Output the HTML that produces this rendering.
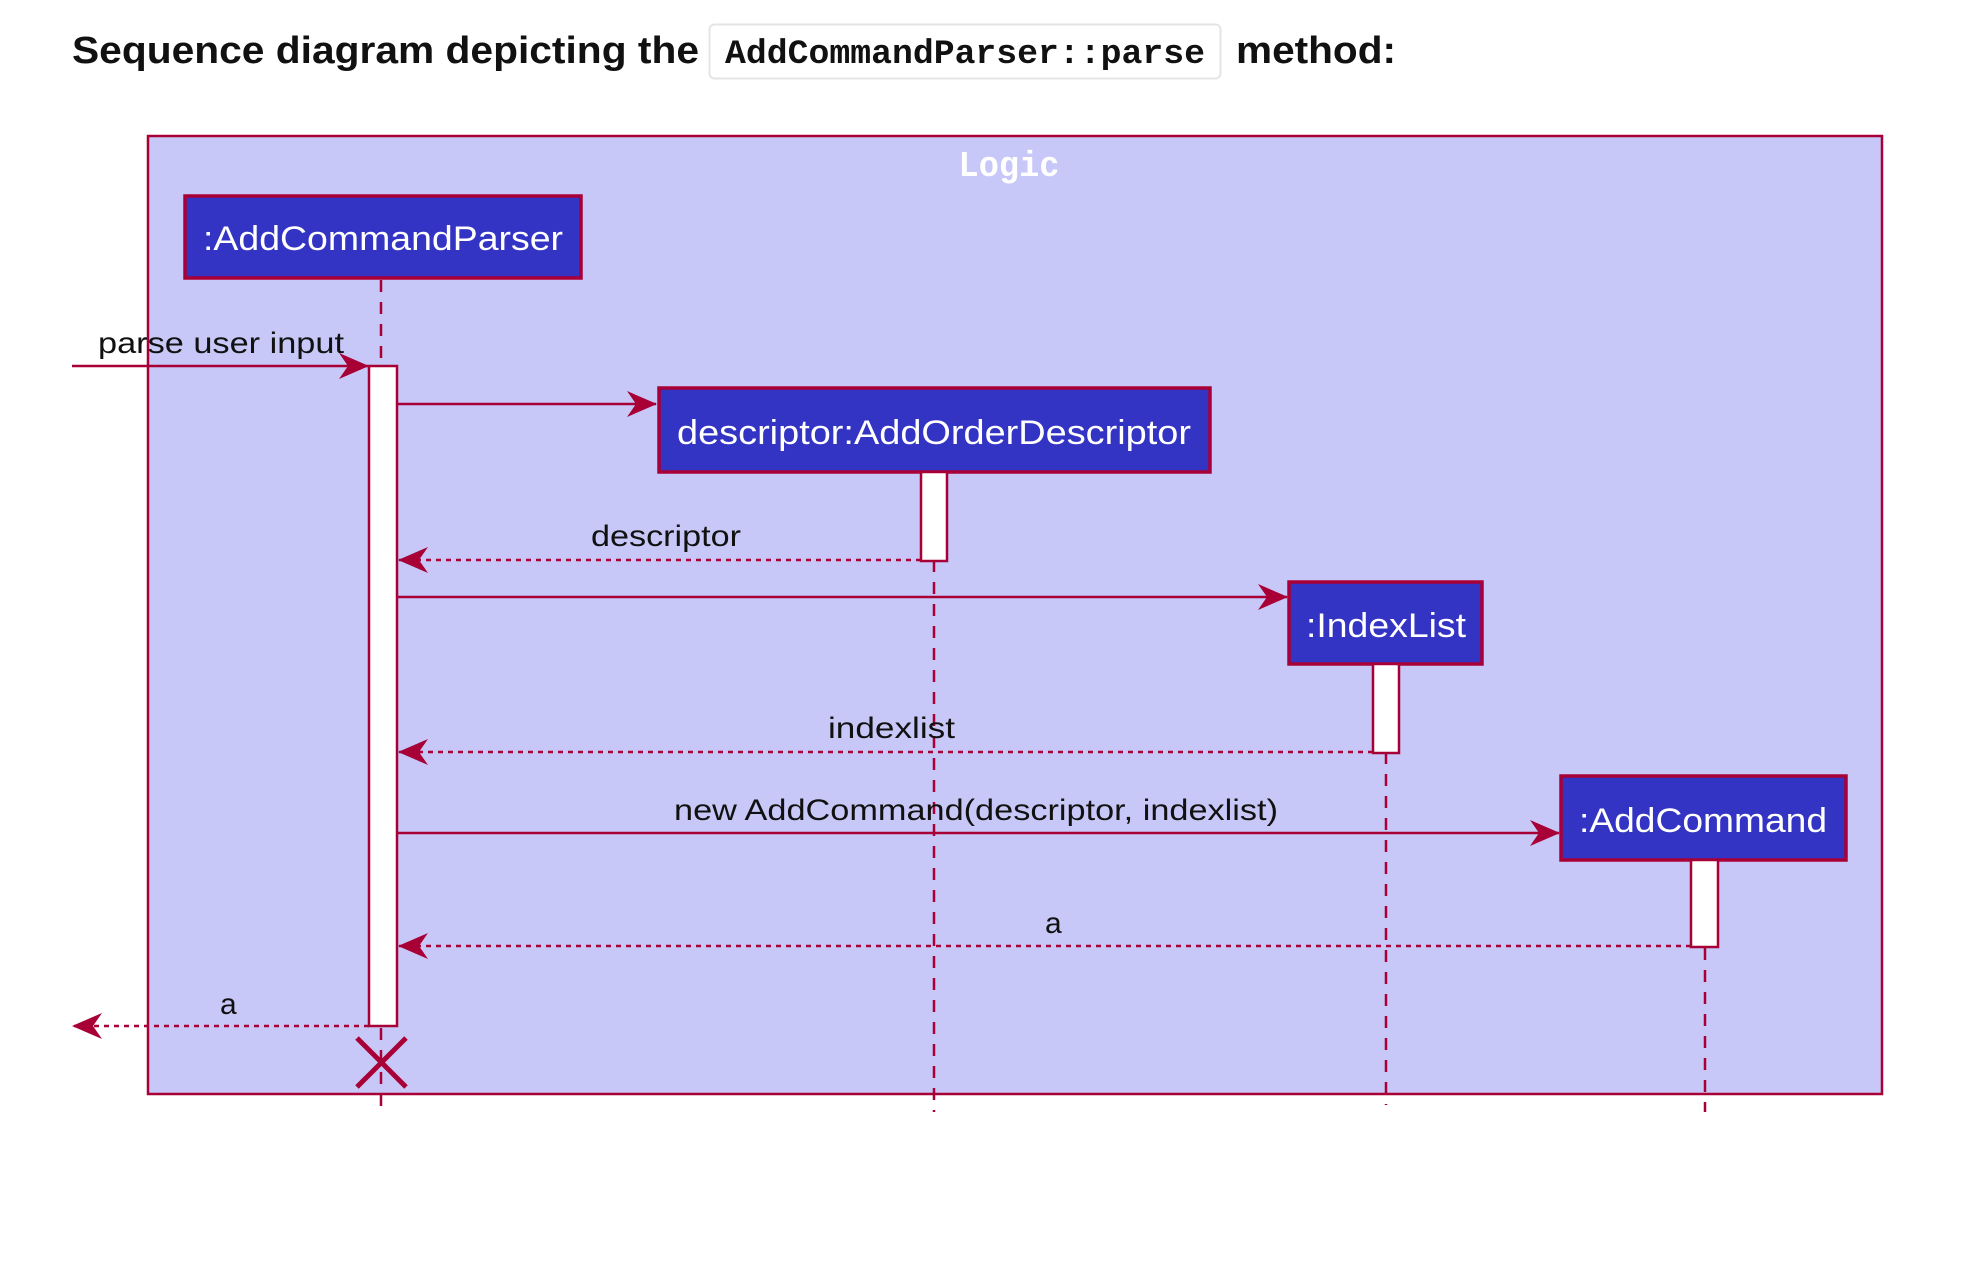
<!DOCTYPE html>
<html><head><meta charset="utf-8"><style>
html,body{margin:0;padding:0;background:#fff;width:1978px;height:1288px;overflow:hidden}
</style></head><body>
<svg width="1978" height="1288" viewBox="0 0 1978 1288" xmlns="http://www.w3.org/2000/svg">
<defs>
<marker id="ah" viewBox="0 0 30 26" refX="29" refY="13" markerWidth="30" markerHeight="26" markerUnits="userSpaceOnUse" orient="auto">
<path d="M0,0 L30,13 L0,26 L9,13 Z" fill="#A80036"/></marker>
<marker id="ahl" viewBox="0 0 30 26" refX="29" refY="13" markerWidth="30" markerHeight="26" markerUnits="userSpaceOnUse" orient="auto">
<path d="M0,0 L30,13 L0,26 L9,13 Z" fill="#A80036"/></marker>
</defs>
<text x="72" y="63" font-family="Liberation Sans, sans-serif" font-weight="bold" font-size="38" fill="#111" textLength="627" lengthAdjust="spacingAndGlyphs">Sequence diagram depicting the</text>
<rect x="709.5" y="24.5" width="511" height="54" rx="5" fill="#fff" stroke="#e4e4e4" stroke-width="2"/>
<text x="725" y="63" font-family="Liberation Mono, monospace" font-weight="bold" font-size="34" fill="#111" textLength="480" lengthAdjust="spacingAndGlyphs">AddCommandParser::parse</text>
<text x="1236" y="63" font-family="Liberation Sans, sans-serif" font-weight="bold" font-size="38" fill="#111" textLength="160" lengthAdjust="spacingAndGlyphs">method:</text>

<rect x="148" y="136" width="1734" height="958" fill="#C8C8F8" stroke="#A80036" stroke-width="2.5"/>
<text x="1009" y="176" text-anchor="middle" font-family="Liberation Mono, monospace" font-weight="bold" font-size="36" fill="#fff" textLength="101" lengthAdjust="spacingAndGlyphs">Logic</text>

<g stroke="#A80036" stroke-width="2.5" stroke-dasharray="12,10" fill="none">
<line x1="381" y1="280" x2="381" y2="1112"/>
<line x1="934" y1="472" x2="934" y2="1112"/>
<line x1="1386" y1="664" x2="1386" y2="1105"/>
<line x1="1705" y1="860" x2="1705" y2="1112"/>
</g>

<g fill="#3333C4" stroke="#A80036" stroke-width="3.5">
<rect x="185" y="196" width="396" height="82"/>
<rect x="659" y="388" width="551" height="84"/>
<rect x="1289" y="582" width="193" height="82"/>
<rect x="1561" y="776" width="285" height="84"/>
</g>
<g font-family="Liberation Sans, sans-serif" font-size="34" fill="#fff" text-anchor="middle">
<text x="383" y="250" textLength="360" lengthAdjust="spacingAndGlyphs">:AddCommandParser</text>
<text x="934" y="444" textLength="514" lengthAdjust="spacingAndGlyphs">descriptor:AddOrderDescriptor</text>
<text x="1386" y="637" textLength="160" lengthAdjust="spacingAndGlyphs">:IndexList</text>
<text x="1703" y="832" textLength="248" lengthAdjust="spacingAndGlyphs">:AddCommand</text>
</g>

<g fill="#fff" stroke="#A80036" stroke-width="2.5">
<rect x="369" y="366" width="28" height="660"/>
<rect x="921" y="472" width="26" height="89"/>
<rect x="1373" y="664" width="26" height="89"/>
<rect x="1691" y="860" width="27" height="87"/>
</g>

<g stroke="#A80036" stroke-width="2.5" fill="none">
<line x1="72" y1="366" x2="368" y2="366" marker-end="url(#ah)"/>
<line x1="397" y1="404" x2="656" y2="404" marker-end="url(#ah)"/>
<line x1="397" y1="597" x2="1287" y2="597" marker-end="url(#ah)"/>
<line x1="397" y1="833" x2="1559" y2="833" marker-end="url(#ah)"/>
<g stroke-dasharray="5,5">
<line x1="921" y1="560" x2="399" y2="560" marker-end="url(#ahl)"/>
<line x1="1373" y1="752" x2="399" y2="752" marker-end="url(#ahl)"/>
<line x1="1691" y1="946" x2="399" y2="946" marker-end="url(#ahl)"/>
<line x1="369" y1="1026" x2="73" y2="1026" marker-end="url(#ahl)"/>
</g>
<g stroke-width="5"><line x1="357" y1="1038" x2="406" y2="1087"/><line x1="406" y1="1038" x2="357" y2="1087"/></g>
</g>

<g font-family="Liberation Sans, sans-serif" font-size="30" fill="#111">
<text x="98" y="353" textLength="246" lengthAdjust="spacingAndGlyphs">parse user input</text>
<text x="591" y="546" textLength="150" lengthAdjust="spacingAndGlyphs">descriptor</text>
<text x="828" y="738" textLength="127" lengthAdjust="spacingAndGlyphs">indexlist</text>
<text x="674" y="820" textLength="604" lengthAdjust="spacingAndGlyphs">new AddCommand(descriptor, indexlist)</text>
<text x="1045" y="933">a</text>
<text x="220" y="1014">a</text>
</g>
</svg>
</body></html>
